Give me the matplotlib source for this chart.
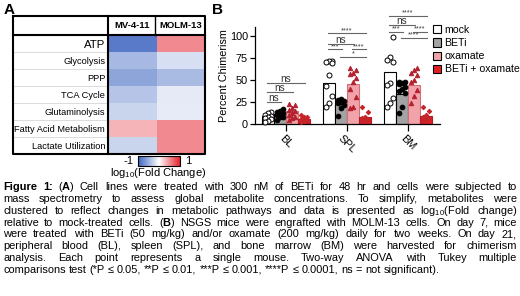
import numpy as np
import matplotlib
matplotlib.use('Agg')
import matplotlib.pyplot as plt
from matplotlib.colors import LinearSegmentedColormap, Normalize
from matplotlib.lines import Line2D
from matplotlib.patches import Patch
from matplotlib.cm import ScalarMappable

plt.rcParams['font.family'] = ['Liberation Sans', 'DejaVu Sans']
plt.rcParams['mathtext.fontset'] = 'custom'
plt.rcParams['mathtext.rm'] = 'Liberation Sans'
plt.rcParams['mathtext.it'] = 'Liberation Sans:italic'
plt.rcParams['mathtext.bf'] = 'Liberation Sans:bold'

# ---------------- data ----------------
pathways = ["ATP", "Glycolysis", "PPP", "TCA Cycle", "Glutaminolysis",
            "Fatty Acid Metabolism", "Lactate Utilization"]
cell_lines = ["MV-4-11", "MOLM-13"]
mv411 = [-0.84, -0.44, -0.57, -0.37, -0.27, 0.33, -0.27]
molm13 = [0.52, -0.20, -0.43, -0.13, -0.12, 0.52, 0.52]

tissues = ["BL", "SPL", "BM"]
treatments = ["mock", "BETi", "oxamate", "BETi + oxamate"]
bar_mock = [9, 46, 59]
bar_beti = [11, 22, 34]
bar_oxa = [14, 45, 44]
bar_combo = [5, 7, 9]

pts_mock = [[13, 12, 10, 9, 8, 6, 5, 3, 2],
            [72, 71, 70, 69, 55, 43, 32, 24, 19],
            [99, 76, 73, 70, 46, 44, 29, 23, 19]]
pts_beti = [[17, 14, 13, 12, 11, 10, 8, 7, 4],
            [28, 27, 26, 25, 23, 21, 18, 9],
            [48, 47, 46, 45, 42, 40, 37, 35, 19, 12]]
pts_oxa = [[22, 21, 18, 16, 14, 12, 10, 8, 6, 4],
           [64, 61, 58, 57, 52, 48, 40, 30, 19, 18],
           [63, 61, 58, 56, 50, 47, 38, 31, 23]]
pts_combo = [[10, 8, 7, 5, 4, 3, 2],
             [19, 13, 8, 6, 5, 4, 3],
             [19, 14, 10, 8, 6, 5, 4]]

# significance: (tissue, treatment a, treatment b, height, label)
sig_tissue = [0, 0, 0, 1, 1, 1, 1, 1, 2, 2, 2, 2, 2]
sig_a = [0, 0, 0, 0, 0, 0, 2, 1, 0, 0, 0, 2, 1]
sig_b = [1, 2, 3, 3, 2, 1, 3, 3, 3, 2, 1, 3, 3]
sig_y = [25, 36, 46, 103, 91, 85, 85, 76, 123, 113, 105, 105, 98]
sig_lab = ["ns", "ns", "ns", "****", "ns", "***", "****", "*",
           "****", "ns", "***", "****", "****"]

caption_lines = [
    "§Figure 1:§ (§A§) Cell lines were treated with 300 nM of BETi for 48 hr and cells were subjected to",
    "mass spectrometry to assess global metabolite concentrations. To simplify, metabolites were",
    "clustered to reflect changes in metabolic pathways and data is presented as log$_{10}$(Fold change)",
    "relative to mock-treated cells. (§B§) NSGS mice were engrafted with MOLM-13 cells. On day 7, mice",
    "were treated with BETi (50 mg/kg) and/or oxamate (200 mg/kg) daily for two weeks. On day 21,",
    "peripheral blood (BL), spleen (SPL), and bone marrow (BM) were harvested for chimerism",
    "analysis. Each point represents a single mouse. Two-way ANOVA with Tukey multiple",
    "comparisons test (*P ≤ 0.05, **P ≤ 0.01, ***P ≤ 0.001, ****P ≤ 0.0001, ns = not significant).",
]

# ---------------- figure ----------------
W, H = 520, 296
fig = plt.figure(figsize=(W / 100, H / 100), dpi=100)


def fx(px):
    return px / W


def fy(py):
    return 1 - py / H


def rect(l, t, r, b):
    return [fx(l), fy(b), (r - l) / W, (b - t) / H]


def fline(xs, ys, lw=1.5, color='black'):
    fig.add_artist(Line2D([fx(v) for v in xs], [fy(v) for v in ys],
                          transform=fig.transFigure, lw=lw, color=color,
                          solid_capstyle='projecting'))


# ---------------- panel A ----------------
cmap = LinearSegmentedColormap.from_list('bwr2', ['#3a62bf', '#ffffff', '#e3202b'])
norm = Normalize(-1, 1)
axh = fig.add_axes(rect(108, 35, 205, 154))
mat = np.array([mv411, molm13]).T
axh.imshow(mat, cmap=cmap, norm=norm, aspect='auto',
           extent=(0, 2, len(pathways), 0), interpolation='nearest')
axh.set_xlim(0, 2)
axh.set_ylim(len(pathways), 0)
for s in axh.spines.values():
    s.set_visible(False)
axh.set_xticks([])
axh.set_yticks(np.arange(len(pathways)) + 0.5)
axh.set_yticklabels(pathways, fontsize=6.7)
axh.tick_params(axis='y', length=0, pad=2)
axh.get_yticklabels()[0].set_fontsize(8.2)
for i in range(1, len(pathways)):
    axh.plot([-1.96, -0.02], [i, i], color='#d6d6d6', lw=0.6, clip_on=False)
for j, name in enumerate(cell_lines):
    axh.text(j + 0.5, -0.55, name, ha='center', va='center', fontsize=6.8,
             fontweight='bold', clip_on=False)

# table borders
fline([13, 205, 205, 13, 13], [16, 16, 154, 154, 16])
fline([13, 205], [35, 35])
fline([108, 108], [16, 154])
fline([155, 155], [16, 35], lw=1.0)

# colorbar
cax = fig.add_axes(rect(138, 156, 180, 166))
cb = fig.colorbar(ScalarMappable(norm=norm, cmap=cmap), cax=cax, orientation='horizontal')
cb.set_ticks([])
cb.outline.set_linewidth(0.8)
fig.text(fx(134), fy(161.5), "-1", ha='right', va='center', fontsize=8)
fig.text(fx(185), fy(161.5), "1", ha='left', va='center', fontsize=8)
fig.text(fx(158), fy(173), "log$_{10}$(Fold Change)", ha='center', va='center', fontsize=8)

fig.text(fx(4), fy(10), "A", fontsize=11, fontweight='bold', ha='left', va='center')
fig.text(fx(212), fy(10), "B", fontsize=11, fontweight='bold', ha='left', va='center')

# ---------------- panel B ----------------
ax = fig.add_axes(rect(255, 27.25, 440, 123.5))
x = np.arange(len(tissues))
bw = 0.197
offs = [-1.5 * bw, -0.5 * bw, 0.5 * bw, 1.5 * bw]
bars = [bar_mock, bar_beti, bar_oxa, bar_combo]
pts = [pts_mock, pts_beti, pts_oxa, pts_combo]
face = ['white', '#a3a3a3', '#f2a3aa', '#e32026']
edge = ['black', 'black', '#d0707a', '#b01c22']
mk = ['o', 'o', '^', 'D']
mfc = ['white', 'black', '#b3202e', '#c4242a']
mec = ['black', 'black', '#b3202e', '#c4242a']
ms = [3.6, 3.4, 3.2, 2.3]
jit = [-0.05, 0.0, 0.05]
for k in range(4):
    ax.bar(x + offs[k], bars[k], width=bw, color=face[k], edgecolor=edge[k],
           linewidth=0.8, zorder=2)
    for g in range(len(tissues)):
        vals = np.array(pts[k][g])
        order = np.argsort(vals)
        xs = np.empty(len(vals))
        for r, idx in enumerate(order):
            xs[idx] = x[g] + offs[k] + jit[r % 3]
        ax.plot(xs, vals, ls='none', marker=mk[k], ms=ms[k], mfc=mfc[k],
                mec=mec[k], mew=0.7, zorder=3, clip_on=False)

for t, a, b, yv, lab in zip(sig_tissue, sig_a, sig_b, sig_y, sig_lab):
    x0 = x[t] + offs[a] - 0.02
    x1 = x[t] + offs[b] + 0.02
    ax.plot([x0, x1], [yv, yv], color='#666666', lw=0.8, clip_on=False, zorder=4)
    if lab == 'ns':
        ax.text((x0 + x1) / 2, yv + 1.2, lab, ha='center', va='baseline',
                fontsize=7.2, color='#333333', clip_on=False)
    else:
        ax.text((x0 + x1) / 2, yv - 1.0, lab, ha='center', va='bottom',
                fontsize=5.2, color='#333333', clip_on=False)

ax.set_xlim(-0.508, 2.525)
ax.set_ylim(0, 110)
ax.set_yticks([0, 25, 50, 75, 100])
ax.set_xticks(x)
ax.set_xticklabels(tissues, rotation=-45, ha='center', va='top', fontsize=7.8)
ax.tick_params(axis='y', labelsize=7.8, length=3.5, width=0.9, pad=1.5)
ax.tick_params(axis='x', length=5, width=0.9, pad=2)
ax.spines['top'].set_visible(False)
ax.spines['right'].set_visible(False)
ax.spines['left'].set_linewidth(0.9)
ax.spines['bottom'].set_linewidth(0.9)
ax.set_ylabel("Percent Chimerism", fontsize=7.8, labelpad=0.5)

handles = [Patch(facecolor=face[k], edgecolor='black', linewidth=0.8) for k in range(4)]
fig.legend(handles, treatments, loc='upper left', bbox_to_anchor=(fx(433), fy(25)),
           frameon=False, fontsize=7.6, handlelength=0.8, handleheight=0.8,
           handletextpad=0.3, labelspacing=0.3, borderpad=0, borderaxespad=0)

# ---------------- caption (justified) ----------------
left_px, right_px = 3, 517
base0, step = 190.0, 11.85
fig.canvas.draw()
renderer = fig.canvas.get_renderer()

# font size: about 8 pt, reduced if the tightest line would not fit
_probe = fig.text(0, 0, caption_lines[3].replace('§', ''), fontsize=10)
_wp = _probe.get_window_extent(renderer).width
_probe.remove()
fs_cap = min(7.9, 10 * (right_px - left_px - 2) / _wp)


def measure(s, bold):
    t = fig.text(0, 0, s, fontsize=fs_cap, fontweight='bold' if bold else 'normal')
    w = t.get_window_extent(renderer).width
    return t, w


_t1, w_aa = measure("aa", False)
_t2, w_a_a = measure("a a", False)
space_w = w_a_a - w_aa
_t1.remove()
_t2.remove()

for li, line in enumerate(caption_lines):
    state = False
    words = []
    for w in line.split(' '):
        parts = w.split('§')
        segs = []
        for k, p in enumerate(parts):
            if k > 0:
                state = not state
            if p:
                segs.append((p, state))
        words.append(segs)
    placed = []
    total = 0
    for segs in words:
        items = []
        ww = 0
        for p, b in segs:
            t, wd = measure(p, b)
            items.append((t, wd))
            ww += wd
        placed.append((items, ww))
        total += ww
    n = len(placed)
    if li < len(caption_lines) - 1 and n > 1:
        gap = (right_px - left_px - total) / (n - 1)
    else:
        gap = space_w
    cx = left_px
    yb = base0 + li * step
    for items, ww in placed:
        for t, wd in items:
            t.set_position((fx(cx), fy(yb)))
            t.set_va('baseline')
            cx += wd
        cx += gap

fig.savefig("out.png", dpi=100)
